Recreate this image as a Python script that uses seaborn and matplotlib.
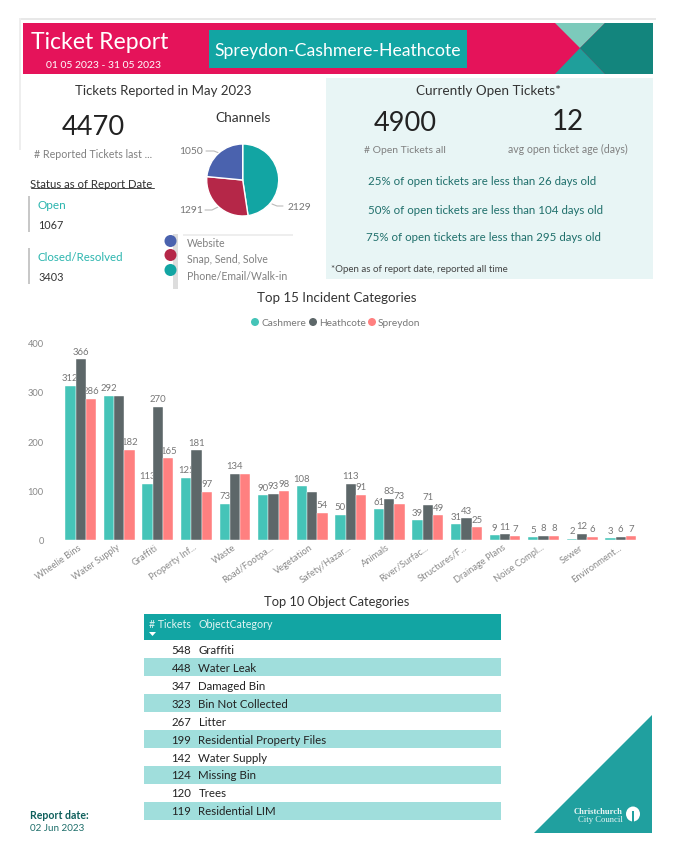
import matplotlib
matplotlib.use("Agg")
import matplotlib.pyplot as plt
from matplotlib.patches import Rectangle, Polygon, Ellipse
from matplotlib.transforms import ScaledTranslation
import pandas as pd
import seaborn as sns

categories = ["Wheelie Bins", "Water Supply", "Graffiti", "Property Inf...", "Waste", "Road/Footpa...",
              "Vegetation", "Safety/Hazar...", "Animals", "River/Surfac...", "Structures/F...",
              "Drainage Plans", "Noise Compl...", "Sewer", "Environment..."]
cashmere = [312, 292, 113, 125, 73, 90, 108, 50, 61, 39, 31, 9, 5, 2, 3]
heathcote = [366, 292, 270, 181, 134, 93, 97, 113, 83, 71, 43, 11, 8, 12, 6]
spreydon = [286, 182, 165, 97, 133, 98, 54, 91, 73, 49, 25, 7, 8, 6, 7]
hidden_labels = {("Heathcote", "Water Supply"), ("Heathcote", "Vegetation"), ("Spreydon", "Waste")}
series_names = ["Cashmere", "Heathcote", "Spreydon"]
series_colors = ["#45C4B8", "#5D6769", "#FF8080"]

channels = ["Phone/Email/Walk-in", "Snap, Send, Solve", "Website"]
channel_values = [2129, 1291, 1050]
channel_colors = ["#12A5A3", "#B52748", "#4A62AE"]

object_counts = [548, 448, 347, 323, 267, 199, 142, 124, 120, 119]
object_names = ["Graffiti", "Water Leak", "Damaged Bin", "Bin Not Collected", "Litter",
                "Residential Property Files", "Water Supply", "Missing Bin", "Trees", "Residential LIM"]

W, H = 675, 862
DY = 1
sns.set_theme(style="white")
plt.rcParams["font.family"] = ["Lato", "DejaVu Sans"]
fig = plt.figure(figsize=(W / 100, H / 100), dpi=100, facecolor="white")

bg = fig.add_axes([0, 0, 1, 1], zorder=0)
bg.set_xlim(0, W)
bg.set_ylim(H - DY, -DY)
bg.axis("off")


def box(x0, y0, x1, y1, color, **kw):
    bg.add_patch(Rectangle((x0, y0), x1 - x0, y1 - y0, facecolor=color, edgecolor="none", **kw))


def T(x, y, s, size, color="#333333", ha="left", **kw):
    bg.text(x, y + 1, s, fontsize=size, color=color, ha=ha, va="center", **kw)


def axes_px(x0, y0, x1, y1, **kw):
    return fig.add_axes([x0 / W, 1 - (y1 + DY) / H, (x1 - x0) / W, (y1 - y0) / H], **kw)


# frame and header
box(19, 18, 656, 20, "#E8E8E8")
box(19, 18, 21, 150, "#EEEEEE")
box(23, 23, 653, 74, "#E5135A")
bg.add_patch(Polygon([(555, 23), (605, 23), (580, 48)], color="#7CCABB", lw=0))
bg.add_patch(Polygon([(555, 74), (605, 74), (580, 48)], color="#1F9F9B", lw=0))
bg.add_patch(Polygon([(605, 23), (653, 23), (653, 74), (605, 74), (580, 48)], color="#13857D", lw=0))
box(209, 30, 467, 68, "#12A5A3")
T(100, 40, "Ticket Report", 16.6, "white", "center")
T(104, 63, "01 05 2023 - 31 05 2023", 7.5, "white", "center")
T(338, 49, "Spreydon-Cashmere-Heathcote", 12.7, "white", "center")

# left panel
T(163, 89, "Tickets Reported in May 2023", 9.5, "#333333", "center")
T(93, 125, "4470", 19.5, "#222222", "center")
T(93, 152, "# Reported Tickets last ...", 7.7, "#808080", "center")
T(30.5, 182, "Status as of Report Date", 8.2, "#333333")
bg.plot([30.5, 154], [188, 188], color="#444444", lw=0.7)
box(28, 196, 30, 232, "#C8C8C8")
box(28, 248, 30, 284, "#C8C8C8")
T(38, 203, "Open", 8.5, "#2BB5AE")
T(38, 223, "1067", 7.8, "#333333")
T(38, 255, "Closed/Resolved", 8.3, "#2BB5AE")
T(38, 275, "3403", 7.8, "#333333")

# pie
T(243, 116, "Channels", 9.9, "#333333", "center")
pie_ax = axes_px(206.7, 144, 278.7, 216, zorder=1)
pie_ax.pie(channel_values, colors=channel_colors, startangle=90, counterclock=False, radius=1)
pie_ax.set_xlim(-1, 1)
pie_ax.set_ylim(-1, 1)
T(299, 205, str(channel_values[0]), 7.4, "#777777", "center")
T(191, 208, str(channel_values[1]), 7.4, "#777777", "center")
T(191, 149, str(channel_values[2]), 7.4, "#777777", "center")
bg.plot([272, 277, 283], [204, 206, 206], color="#BBBBBB", lw=0.8)
bg.plot([205, 212, 218], [210, 210, 207], color="#BBBBBB", lw=0.8)
bg.plot([206, 214, 219], [151, 151, 153], color="#BBBBBB", lw=0.8)
box(173, 234, 178, 289, "#DDDDDD")
box(183, 234, 293, 236, "#EEEEEE")
for yy, name in zip([243, 259.5, 276], channels[::-1]):
    T(187, yy - 2, name, 7.6, "#808080")
for yy, col in zip([241, 255, 270], channel_colors[::-1]):
    bg.add_patch(Ellipse((170.5, yy), 12, 12, color=col, lw=0, zorder=4))

# open tickets panel
box(326, 78, 653, 279, "#E8F5F5")
T(489, 89, "Currently Open Tickets*", 9.7, "#333333", "center")
T(405, 121, "4900", 19.5, "#222222", "center")
T(568, 120, "12", 20, "#222222", "center")
T(405, 148, "# Open Tickets all", 7.5, "#808080", "center")
T(568, 147, "avg open ticket age (days)", 7.6, "#808080", "center")
T(368, 179, "25% of open tickets are less than 26 days old", 8.3, "#1F6F6B")
T(368, 208, "50% of open tickets are less than 104 days old", 8.3, "#1F6F6B")
T(366, 235, "75% of open tickets are less than 295 days old", 8.3, "#1F6F6B")
T(331, 267, "*Open as of report date, reported all time", 7.0, "#444444")

# bar chart
T(337, 296, "Top 15 Incident Categories", 9.6, "#333333", "center")
for cx, tx, name, col in zip([255, 313, 372], [261, 319, 378], series_names, series_colors):
    bg.add_patch(Ellipse((cx, 322), 8, 8, color=col, lw=0))
    T(tx, 321, name, 7.3, "#777777")

df = pd.DataFrame({
    "category": categories * 3,
    "series": [s for s in series_names for _ in categories],
    "tickets": cashmere + heathcote + spreydon,
})
ax = axes_px(61.75, 342.5, 640, 539.5, zorder=2)
ax.patch.set_alpha(0)
sns.barplot(data=df, x="category", y="tickets", hue="series", hue_order=series_names,
            palette=series_colors, saturation=1, width=0.8, gap=0, legend=False, ax=ax,
            edgecolor="white", linewidth=0.3, zorder=3)
ax.set_xlim(-0.49, 14.5)
ax.set_ylim(0, 400)
ax.set_xlabel("")
ax.set_ylabel("")
ax.set_yticks([0, 100, 200, 300, 400])
ax.tick_params(axis="y", labelsize=6.7, labelcolor="#888888", length=0, pad=13)
ax.set_xticks(range(len(categories)))
ax.set_xticklabels(categories, rotation=35, ha="right", rotation_mode="anchor",
                   fontsize=6.7, color="#8A8A8A")
ax.tick_params(axis="x", length=0, pad=2)
shift = ScaledTranslation(-3 / 100, 0, fig.dpi_scale_trans)
for lab in ax.get_xticklabels():
    lab.set_transform(lab.get_transform() + shift)
sns.despine(ax=ax, left=True, bottom=True)
for name, cont in zip(series_names, ax.containers):
    labels = ["" if (name, c) in hidden_labels else str(int(b.get_height()))
              for c, b in zip(categories, cont)]
    for t in ax.bar_label(cont, labels=labels, padding=2.5, fontsize=6.9, color="#777777"):
        t.set_zorder(2)

# table
T(337, 600, "Top 10 Object Categories", 9.3, "#333333", "center")
box(144, 614, 501, 640, "#12A5A3")
box(194.6, 614, 195.2, 640, "#4DBDBB")
T(191, 623, "# Tickets", 7.6, "#E4F5F4", "right")
T(198.5, 623, "ObjectCategory", 7.7, "#E4F5F4")
bg.add_patch(Polygon([(149, 632), (156, 632), (152.5, 636)], color="white", lw=0))
for i, (n, name) in enumerate(zip(object_counts, object_names)):
    yy = 649 + 18 * i
    if i % 2 == 1:
        box(144, yy - 9, 501, yy + 9, "#A0DEDC")
    T(191, yy - 1, str(n), 8.2, "#222222", "right")
    T(198.5, yy - 1, name, 8.3, "#222222")

# footer
T(30, 814, "Report date:", 7.6, "#0E5F5B", fontweight="bold")
T(30, 827, "02 Jun 2023", 7.1, "#1F6F6B")
bg.add_patch(Polygon([(534, 833), (652, 715), (652, 833)], color="#20A09F", lw=0))
T(623, 810, "Christchurch", 6.2, "#E8F5F5", "right", family="Liberation Serif", fontweight="bold")
T(623, 818, "City Council", 6.2, "#E8F5F5", "right", family="Liberation Serif")
bg.add_patch(Ellipse((633, 814), 14, 15, color="white", lw=0))
bg.add_patch(Rectangle((632, 811), 2, 11, color="#20A09F", lw=0))

fig.savefig("out.png", dpi=100, facecolor="white")
